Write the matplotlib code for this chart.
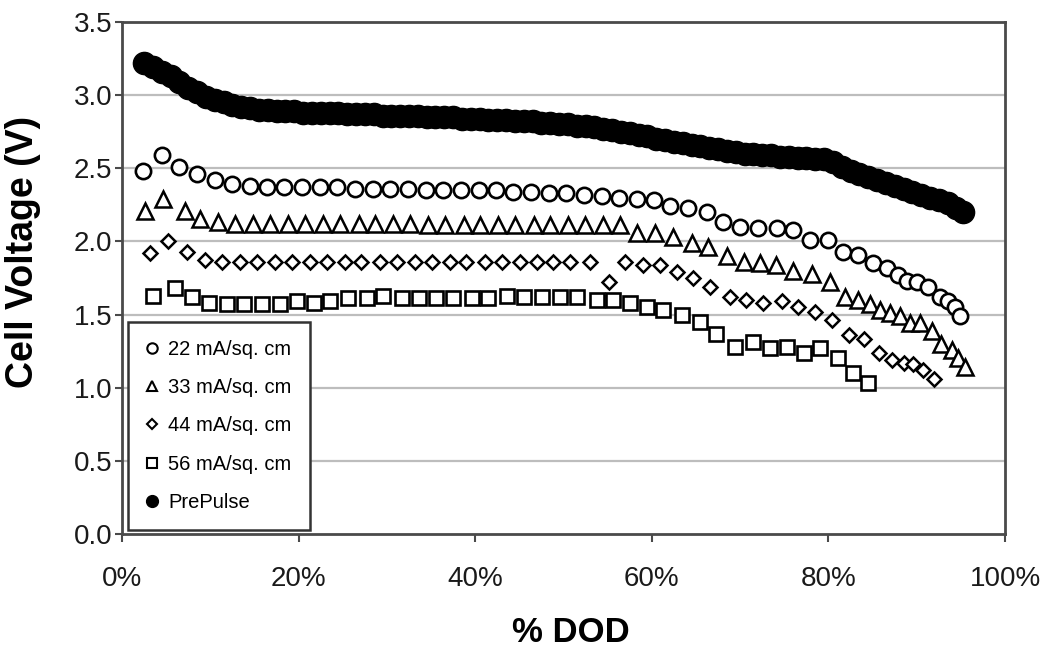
import matplotlib
matplotlib.use("Agg")
import matplotlib.pyplot as plt
from matplotlib.lines import Line2D

plt.rcParams['font.family'] = ['Liberation Sans', 'DejaVu Sans']

# ---------------- data ----------------
dod_22 = [2.4, 4.5, 6.5, 8.5, 10.5, 12.5, 14.5, 16.4, 18.4, 20.4, 22.4, 24.4, 26.4,
          28.4, 30.4, 32.4, 34.4, 36.4, 38.4, 40.4, 42.4, 44.3, 46.3, 48.3, 50.3,
          52.3, 54.3, 56.3, 58.3, 60.3, 62.1, 64.1, 66.3, 68.1, 70.0, 72.0, 74.2,
          76.0, 77.9, 80.0, 81.7, 83.4, 85.0, 86.6, 87.9, 88.9, 90.0, 91.3, 92.6,
          93.5, 94.3, 94.9]
v_22 = [2.48, 2.59, 2.51, 2.46, 2.42, 2.39, 2.38, 2.37, 2.37, 2.37, 2.37, 2.37, 2.36,
        2.36, 2.36, 2.36, 2.35, 2.35, 2.35, 2.35, 2.35, 2.34, 2.34, 2.33, 2.33,
        2.32, 2.31, 2.30, 2.29, 2.28, 2.24, 2.23, 2.20, 2.13, 2.10, 2.09, 2.09,
        2.08, 2.01, 2.01, 1.93, 1.91, 1.85, 1.82, 1.77, 1.73, 1.72, 1.69, 1.62,
        1.59, 1.55, 1.49]

dod_33 = [2.6, 4.6, 7.1, 8.8, 10.9, 12.8, 14.8, 16.8, 18.8, 20.7, 22.8, 24.7, 26.8,
          28.7, 30.7, 32.6, 34.7, 36.6, 38.7, 40.5, 42.6, 44.5, 46.6, 48.5, 50.5,
          52.4, 54.5, 56.4, 58.3, 60.4, 62.4, 64.5, 66.4, 68.5, 70.4, 72.3, 74.1,
          76.0, 78.1, 80.2, 81.9, 83.4, 84.7, 85.8, 87.0, 88.1, 89.2, 90.4, 91.7,
          92.8, 94.0, 94.7, 95.5]
v_33 = [2.21, 2.29, 2.21, 2.15, 2.13, 2.12, 2.12, 2.12, 2.12, 2.12, 2.12, 2.12, 2.12,
        2.12, 2.12, 2.12, 2.11, 2.11, 2.11, 2.11, 2.11, 2.11, 2.11, 2.11, 2.11,
        2.11, 2.11, 2.11, 2.06, 2.06, 2.03, 1.99, 1.96, 1.90, 1.86, 1.85, 1.84,
        1.80, 1.78, 1.72, 1.62, 1.60, 1.57, 1.53, 1.51, 1.49, 1.44, 1.44, 1.39,
        1.30, 1.26, 1.20, 1.14]

dod_44 = [3.2, 5.2, 7.4, 9.4, 11.3, 13.4, 15.3, 17.3, 19.2, 21.3, 23.2, 25.3, 27.1,
          29.2, 31.1, 33.2, 35.1, 37.1, 39.0, 41.1, 43.0, 45.1, 47.0, 48.8, 50.7,
          53.0, 55.1, 57.0, 59.0, 60.9, 62.8, 64.7, 66.6, 68.9, 70.7, 72.6, 74.7,
          76.6, 78.5, 80.4, 82.3, 84.0, 85.7, 87.2, 88.5, 89.6, 90.7, 91.9]
v_44 = [1.92, 2.00, 1.93, 1.87, 1.86, 1.86, 1.86, 1.86, 1.86, 1.86, 1.86, 1.86, 1.86,
        1.86, 1.86, 1.86, 1.86, 1.86, 1.86, 1.86, 1.86, 1.86, 1.86, 1.86, 1.86,
        1.86, 1.72, 1.86, 1.84, 1.84, 1.79, 1.75, 1.69, 1.62, 1.60, 1.58, 1.59,
        1.55, 1.52, 1.46, 1.36, 1.33, 1.24, 1.19, 1.17, 1.16, 1.12, 1.06]

dod_56 = [3.5, 6.0, 7.9, 9.8, 11.9, 13.8, 15.8, 17.9, 19.8, 21.7, 23.6, 25.6, 27.7,
          29.6, 31.7, 33.6, 35.6, 37.5, 39.6, 41.5, 43.6, 45.5, 47.6, 49.6, 51.5,
          53.8, 55.6, 57.5, 59.4, 61.3, 63.4, 65.5, 67.3, 69.4, 71.5, 73.4, 75.3,
          77.2, 79.0, 81.1, 82.8, 84.5]
v_56 = [1.63, 1.68, 1.62, 1.58, 1.57, 1.57, 1.57, 1.57, 1.59, 1.58, 1.59, 1.61, 1.61,
        1.63, 1.61, 1.61, 1.61, 1.61, 1.61, 1.61, 1.63, 1.62, 1.62, 1.62, 1.62,
        1.60, 1.60, 1.58, 1.55, 1.53, 1.50, 1.45, 1.37, 1.28, 1.31, 1.27, 1.28,
        1.24, 1.27, 1.20, 1.10, 1.03]

dod_pre = [2.5, 3.5, 4.5, 5.5, 6.5, 7.5, 8.5, 9.5, 10.5, 11.5, 12.5, 13.5, 14.5, 15.5,
           16.5, 17.5, 18.5, 19.5, 20.5, 21.5, 22.5, 23.5, 24.5, 25.5, 26.5, 27.5,
           28.5, 29.5, 30.5, 31.5, 32.5, 33.5, 34.5, 35.5, 36.5, 37.5, 38.5, 39.5,
           40.5, 41.5, 42.5, 43.5, 44.5, 45.5, 46.5, 47.5, 48.5, 49.5, 50.5, 51.5,
           52.5, 53.5, 54.5, 55.5, 56.5, 57.5, 58.5, 59.5, 60.5, 61.5, 62.5, 63.5,
           64.5, 65.5, 66.5, 67.5, 68.5, 69.5, 70.5, 71.5, 72.5, 73.5, 74.5, 75.5,
           76.5, 77.5, 78.5, 79.5, 80.5, 81.5, 82.5, 83.5, 84.5, 85.5, 86.5, 87.5,
           88.5, 89.5, 90.5, 91.5, 92.5, 93.5, 94.5, 95.2]
v_pre = [3.22, 3.19, 3.16, 3.13, 3.09, 3.05, 3.02, 2.99, 2.97, 2.95, 2.93, 2.92, 2.91,
         2.90, 2.90, 2.89, 2.89, 2.89, 2.88, 2.88, 2.88, 2.88, 2.88, 2.87, 2.87, 2.87,
         2.87, 2.86, 2.86, 2.86, 2.86, 2.86, 2.85, 2.85, 2.85, 2.85, 2.84, 2.84, 2.84,
         2.83, 2.83, 2.83, 2.82, 2.82, 2.82, 2.81, 2.81, 2.80, 2.80, 2.79, 2.79, 2.78,
         2.77, 2.76, 2.75, 2.74, 2.73, 2.72, 2.70, 2.69, 2.68, 2.67, 2.66, 2.65, 2.64,
         2.63, 2.62, 2.61, 2.60, 2.60, 2.59, 2.59, 2.58, 2.58, 2.57, 2.57, 2.56, 2.56,
         2.54, 2.51, 2.48, 2.46, 2.44, 2.42, 2.40, 2.38, 2.36, 2.34, 2.32, 2.30, 2.28,
         2.26, 2.23, 2.20]

labels = ["22 mA/sq. cm", "33 mA/sq. cm", "44 mA/sq. cm", "56 mA/sq. cm", "PrePulse"]
y_ticks = [0.0, 0.5, 1.0, 1.5, 2.0, 2.5, 3.0, 3.5]
x_ticks = [0, 20, 40, 60, 80, 100]
x_ticklabels = ["0%", "20%", "40%", "60%", "80%", "100%"]

# ---------------- figure ----------------
fig = plt.figure(figsize=(10.5, 6.5), dpi=100)
ax = fig.add_axes([0.1162, 0.1785, 0.8410, 0.7877])

ax.set_xlim(0, 100)
ax.set_ylim(0, 3.5)
ax.set_yticks(y_ticks)
ax.set_yticklabels([f"{t:.1f}" for t in y_ticks])
ax.set_xticks(x_ticks)
ax.set_xticklabels(x_ticklabels)

for yv in y_ticks[1:-1]:
    ax.axhline(yv, color='#bdbdbd', lw=1.6, zorder=0)

spine_c = '#4a4a4a'
for s in ax.spines.values():
    s.set_color(spine_c)
    s.set_linewidth(2.0)

ax.tick_params(axis='y', direction='out', length=5, width=1.5, color=spine_c,
               labelsize=20, pad=2, labelcolor='#1a1a1a')
ax.tick_params(axis='x', direction='out', length=6, width=1.5, color=spine_c,
               labelsize=20, pad=17, labelcolor='#1a1a1a')

ek = dict(linestyle='none', markeredgecolor='black', markerfacecolor='white')
ax.plot(dod_pre, v_pre, marker='o', linestyle='none', color='black', ms=16, zorder=3)
ax.plot(dod_22, v_22, marker='o', ms=11, mew=1.9, zorder=4, **ek)
ax.plot(dod_33, v_33, marker='^', ms=11, mew=1.8, zorder=4, **ek)
ax.plot(dod_44, v_44, marker='D', ms=7.2, mew=1.8, zorder=4, **ek)
ax.plot(dod_56, v_56, marker='s', ms=10, mew=1.9, zorder=4, **ek)

ax.set_ylabel("Cell Voltage (V)", fontsize=27, fontweight='bold')
ax.yaxis.set_label_coords(-0.092, 0.551)
ax.set_xlabel("% DOD", fontsize=25, fontweight='bold')
ax.xaxis.set_label_coords(0.5085, -0.160)

handles = [
    Line2D([], [], marker='o', ms=7.5, mew=1.5, **ek),
    Line2D([], [], marker='^', ms=7.5, mew=1.5, **ek),
    Line2D([], [], marker='D', ms=5.2, mew=1.5, **ek),
    Line2D([], [], marker='s', ms=7, mew=1.5, **ek),
    Line2D([], [], marker='o', linestyle='none', color='black', ms=8.5),
]
leg = ax.legend(handles, labels, loc='lower left', bbox_to_anchor=(0.007, 0.008),
                borderaxespad=0, fontsize=14.5, frameon=True, fancybox=False,
                edgecolor='#333333', framealpha=1, handlelength=0.6,
                handletextpad=0.5, borderpad=0.9, labelspacing=0.95, numpoints=1)
leg.get_frame().set_linewidth(1.8)
leg.set_zorder(6)

fig.savefig("out.png", dpi=100)
